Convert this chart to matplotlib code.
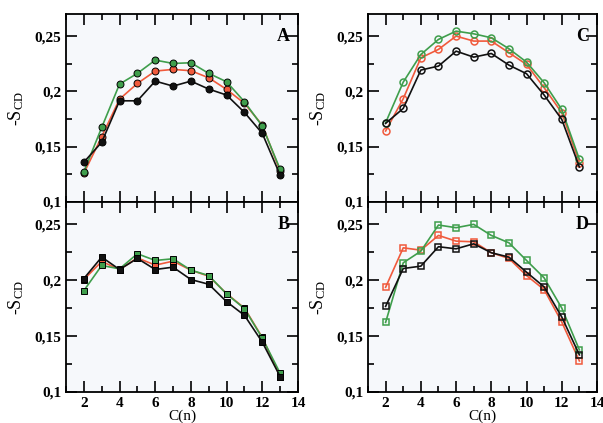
import matplotlib
matplotlib.use("Agg")
import matplotlib.pyplot as plt
from matplotlib.ticker import MultipleLocator, FuncFormatter

plt.rcParams['font.family'] = 'Liberation Serif'
plt.rcParams['font.weight'] = 'bold'
plt.rcParams['mathtext.fontset'] = 'custom'
plt.rcParams['mathtext.rm'] = 'Liberation Serif:bold'
plt.rcParams['mathtext.it'] = 'Liberation Serif:bold'
plt.rcParams['mathtext.default'] = 'regular'

carbons = list(range(2, 14))

# panel A (filled circles)
a_black = [0.136, 0.154, 0.1915, 0.1915, 0.2093, 0.2048, 0.2093, 0.2021, 0.1967, 0.181, 0.162, 0.1243]
a_red = [0.126, 0.159, 0.193, 0.2072, 0.2184, 0.2199, 0.2187, 0.2123, 0.2018, 0.1892, 0.1695, 0.128]
a_green = [0.1273, 0.1674, 0.2066, 0.2163, 0.2283, 0.2253, 0.2259, 0.2163, 0.2087, 0.1906, 0.1686, 0.1295]

# panel B (filled squares)
b_black = [0.2015, 0.2207, 0.2096, 0.2195, 0.2096, 0.2117, 0.2006, 0.1964, 0.1808, 0.1686, 0.1446, 0.1138]
b_red = [0.2006, 0.2168, 0.2096, 0.22, 0.2135, 0.2171, 0.209, 0.2036, 0.188, 0.1751, 0.1488, 0.1138]
b_green = [0.1907, 0.2132, 0.2102, 0.2237, 0.2177, 0.2192, 0.209, 0.2042, 0.1877, 0.1746, 0.1482, 0.1168]

# panel C (open circles)
c_black = [0.1711, 0.1846, 0.2193, 0.2229, 0.2364, 0.231, 0.2343, 0.2238, 0.216, 0.1967, 0.1747, 0.1316]
c_red = [0.1642, 0.1934, 0.2304, 0.238, 0.25, 0.2455, 0.2455, 0.235, 0.2244, 0.2033, 0.1807, 0.1355]
c_green = [0.1717, 0.2084, 0.2334, 0.247, 0.2545, 0.2521, 0.2485, 0.2386, 0.2265, 0.2078, 0.1837, 0.1386]

# panel D (open squares)
d_black = [0.1766, 0.2105, 0.2126, 0.23, 0.2281, 0.2326, 0.2246, 0.2207, 0.2072, 0.194, 0.1671, 0.1332]
d_red = [0.1937, 0.229, 0.2269, 0.2401, 0.235, 0.2344, 0.2246, 0.2195, 0.2042, 0.1916, 0.1626, 0.1278]
d_green = [0.1623, 0.2156, 0.226, 0.2494, 0.247, 0.25, 0.2401, 0.2335, 0.2177, 0.2021, 0.1751, 0.1377]

panel_labels = ['A', 'B', 'C', 'D']
series = [
    (a_black, a_red, a_green),
    (b_black, b_red, b_green),
    (c_black, c_red, c_green),
    (d_black, d_red, d_green),
]

col_black = '#111111'
col_red = '#f05a3c'
col_green = '#3f9e4c'

W, H = 603, 423
fig = plt.figure(figsize=(W / 100, H / 100), dpi=100)

# axes boxes in pixels: (left, right, top, bottom)
boxes = [(66, 298, 14, 202), (66, 298, 202, 392), (368, 597, 14, 202), (368, 597, 202, 392)]
markers = ['o', 's', 'o', 's']
filled = [True, True, False, False]

fmt = FuncFormatter(lambda v, p: ('%g' % round(v, 3)).replace('.', ','))

for i, (l, r, t, b) in enumerate(boxes):
    ax = fig.add_axes([l / W, 1 - b / H, (r - l) / W, (b - t) / H])
    ax.set_facecolor('#f6f8fb')
    blk, red, grn = series[i]
    for vals, c in [(red, col_red), (grn, col_green), (blk, col_black)]:
        if filled[i]:
            ax.plot(carbons, vals, color=c, lw=1.2, marker=markers[i], ms=5,
                    mfc=c, mec='black', mew=0.7)
        else:
            ax.plot(carbons, vals, color=c, lw=1.2, marker=markers[i], ms=5,
                    mfc='none', mec=c, mew=1.1)
    ax.set_xlim(1, 14)
    ax.set_ylim(0.1, 0.27)
    ax.xaxis.set_major_locator(MultipleLocator(2))
    ax.xaxis.set_minor_locator(MultipleLocator(1))
    ax.yaxis.set_major_locator(MultipleLocator(0.05))
    ax.yaxis.set_minor_locator(MultipleLocator(0.025))
    ax.yaxis.set_major_formatter(fmt)
    ax.tick_params(which='both', direction='in', top=True, right=True, width=1.2,
                   labelsize=11)
    ax.tick_params(which='major', length=8)
    ax.tick_params(which='minor', length=4)
    for s in ax.spines.values():
        s.set_linewidth(1.3)
    if i in (0, 2):
        ax.tick_params(labelbottom=False)
    else:
        ax.set_xlabel('C(n)', fontsize=11, labelpad=0)
    ax.set_ylabel('-S$_{CD}$', fontsize=13, labelpad=6)
    ax.text(13.55, 0.25, panel_labels[i], fontsize=13, ha='right', va='center')

fig.savefig('out.png', dpi=100)
